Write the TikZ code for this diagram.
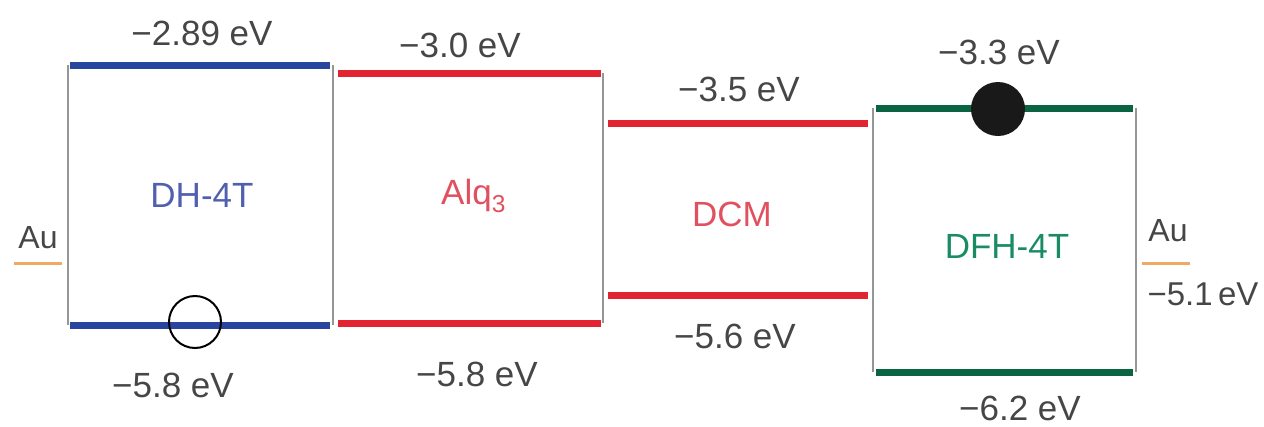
\documentclass[tikz,border=0pt]{standalone}
\usepackage{fontspec}
\setmainfont{Liberation Sans}
\definecolor{cblue}{RGB}{40,70,160}
\definecolor{cred}{RGB}{225,35,50}
\definecolor{cgreen}{RGB}{10,100,65}
\definecolor{corange}{RGB}{240,170,100}
\definecolor{cgrayline}{RGB}{150,150,150}
\definecolor{ctext}{RGB}{70,70,70}
\definecolor{lblue}{RGB}{80,95,175}
\definecolor{lred}{RGB}{225,80,95}
\definecolor{lgreen}{RGB}{25,140,100}
\begin{document}
\begin{tikzpicture}[x=1pt,y=-1pt,
  level/.style={line width=7pt},
  side/.style={draw=cgrayline,line width=1.8pt},
  ev/.style={font=\fontsize{35}{38}\selectfont,text=ctext,inner sep=0pt},
  mat/.style={font=\fontsize{35}{38}\selectfont,inner sep=0pt},
  aulab/.style={font=\fontsize{32}{34}\selectfont,text=ctext,inner sep=0pt},
  au/.style={draw=corange,line width=3pt}]
\useasboundingbox (0,0) rectangle (1264,426);
% corner coordinates
\coordinate (a1) at (70,65);  \coordinate (b1) at (330,65);
\coordinate (c1) at (70,325); \coordinate (d1) at (330,325);
\coordinate (a2) at (338,73); \coordinate (b2) at (601,73);
\coordinate (c2) at (338,323);\coordinate (d2) at (601,323);
\coordinate (a3) at (608,123);\coordinate (b3) at (868,123);
\coordinate (c3) at (608,295);\coordinate (d3) at (868,295);
\coordinate (a4) at (876,108);\coordinate (b4) at (1133,108);
\coordinate (c4) at (876,372);\coordinate (d4) at (1133,372);
% verticals
\coordinate (v1t) at (68,65);   \coordinate (v1b) at (68,325);
\coordinate (v2t) at (333,65);  \coordinate (v2b) at (333,325);
\coordinate (v3t) at (603,73);  \coordinate (v3b) at (603,323);
\coordinate (v4t) at (873,108); \coordinate (v4b) at (873,372);
\coordinate (v5t) at (1136,108);\coordinate (v5b) at (1136,372);
\draw[side] (v1t) -- (v1b);
\draw[side] (v2t) -- (v2b);
\draw[side] (v3t) -- (v3b);
\draw[side] (v4t) -- (v4b);
\draw[side] (v5t) -- (v5b);
% levels
\draw[level,cblue] (a1) -- (b1);
\draw[level,cblue] (c1) -- (d1);
\draw[level,cred] (a2) -- (b2);
\draw[level,cred] (c2) -- (d2);
\draw[level,cred] (a3) -- (b3);
\draw[level,cred] (c3) -- (d3);
\draw[level,cgreen] (a4) -- (b4);
\draw[level,cgreen] (c4) -- (d4);
% Au electrodes
\coordinate (au1a) at (14,263); \coordinate (au1b) at (62,263);
\coordinate (au2a) at (1142,263); \coordinate (au2b) at (1190,263);
\draw[au] (au1a) -- (au1b);
\draw[au] (au2a) -- (au2b);
\node[aulab] (auL) at (38,238) {Au};
\node[aulab] (auR) at (1168,231) {Au};
\node[aulab,font=\fontsize{33}{35}\selectfont] (auRe) at (1203,294) {−5.1\,eV};
% energy labels
\node[ev] (e1t) at (202,33) {−2.89 eV};
\node[ev] (e1b) at (173,385) {−5.8 eV};
\node[ev] (e2t) at (460,45) {−3.0 eV};
\node[ev] (e2b) at (477,374) {−5.8 eV};
\node[ev] (e3t) at (739,89) {−3.5 eV};
\node[ev] (e3b) at (735,336) {−5.6 eV};
\node[ev] (e4t) at (999,52) {−3.3 eV};
\node[ev] (e4b) at (1020,408) {−6.2 eV};
% material labels
\node[mat,text=lblue] (m1) at (202,195) {DH-4T};
\node[mat,text=lred,anchor=base west] (m2) at (441,204) {Alq\textsubscript{3}};
\node[mat,text=lred] (m3) at (732,214) {DCM};
\node[mat,text=lgreen] (m4) at (1007,246) {DFH-4T};
% hole and electron
\node[draw=black,line width=2pt,circle,minimum size=52pt,inner sep=0pt] (hole) at (195,322) {};
\node[fill=black!90,circle,minimum size=54pt,inner sep=0pt] (elec) at (998,109) {};
\end{tikzpicture}
\end{document}
